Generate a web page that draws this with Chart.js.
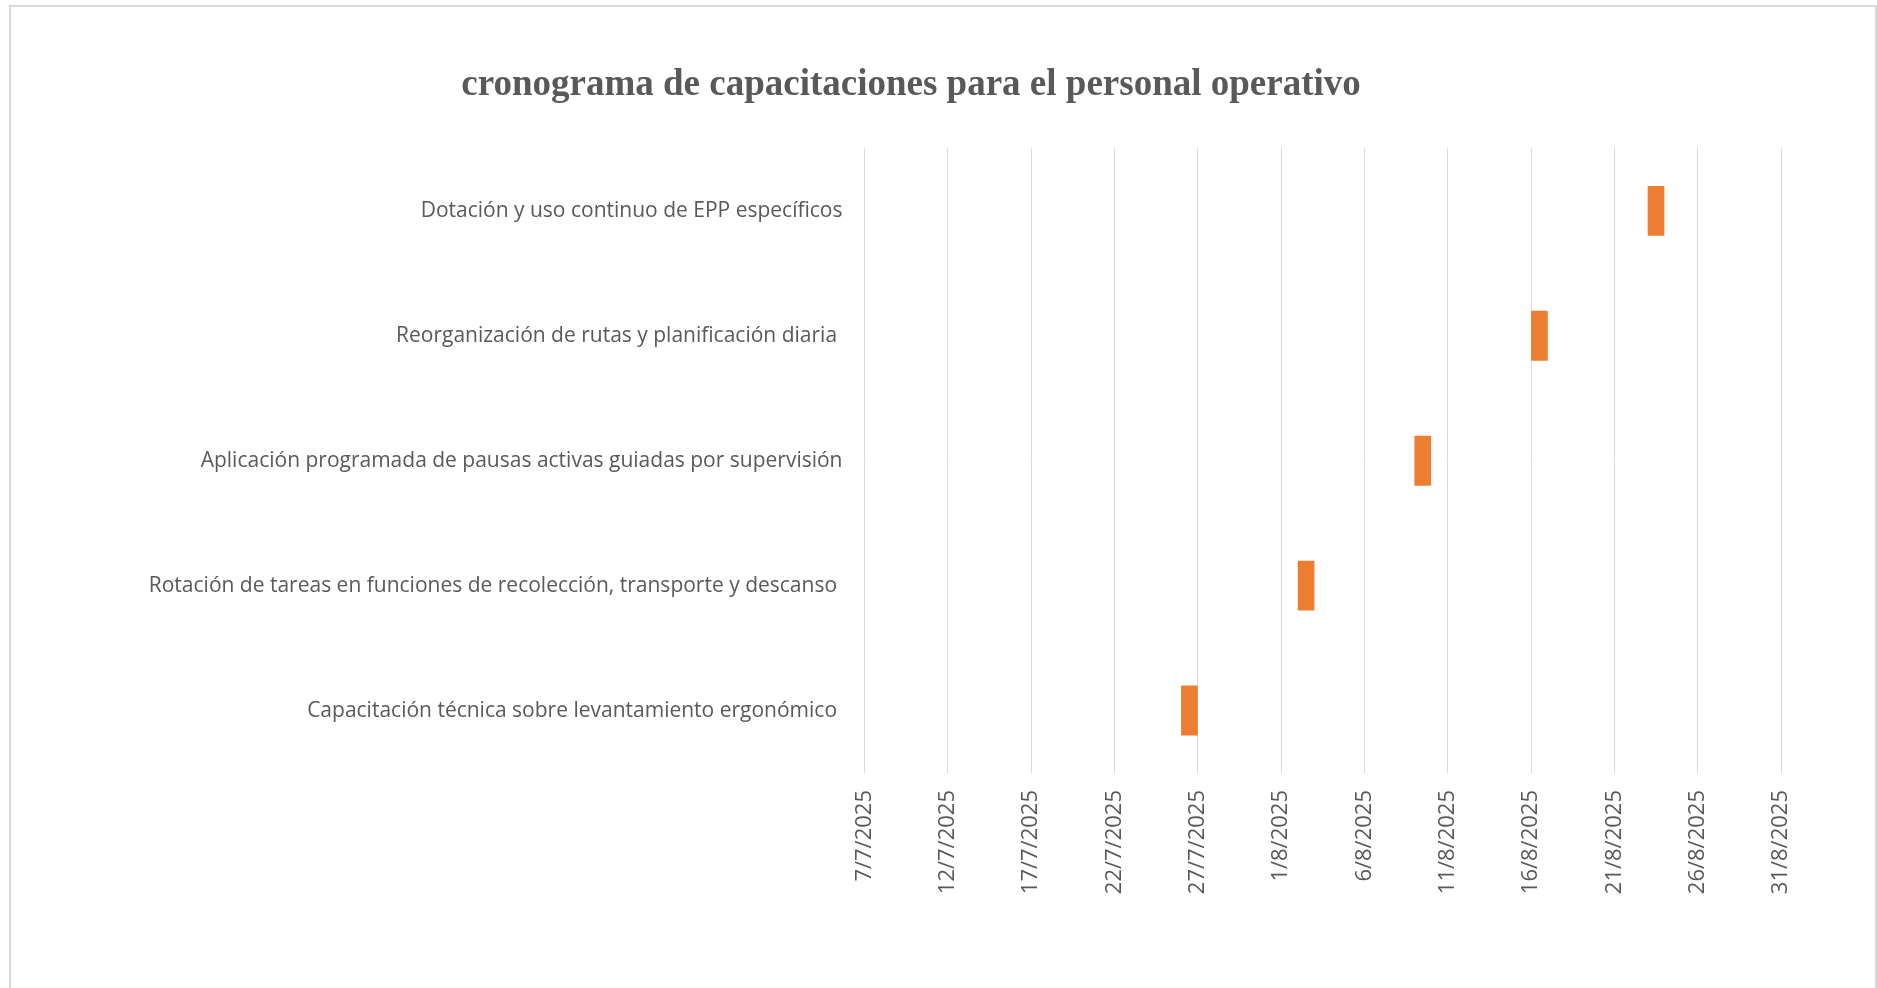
<!DOCTYPE html>
<html lang="es">
<head>
<meta charset="utf-8">
<title>cronograma de capacitaciones</title>
<script src="https://cdn.jsdelivr.net/npm/chart.js@4.4.1/dist/chart.umd.min.js"></script>
<style>
  html, body { margin: 0; padding: 0; background: #fff; overflow: hidden; }
  #frame {
    position: absolute; left: 9px; top: 5px; width: 1868px; height: 990px;
    border: 2px solid #d9d9d9; box-sizing: border-box;
  }
  #wrap { position: absolute; left: 0; top: 0; width: 1877px; height: 988px; }
</style>
</head>
<body>
<div id="frame"></div>
<div id="wrap"><canvas id="gantt"></canvas></div>
<script>
// tasks listed bottom to top, as on the chart
const tasks = [
    'Capacitación técnica sobre levantamiento ergonómico ',
    'Rotación de tareas en funciones de recolección, transporte y descanso ',
    'Aplicación programada de pausas activas guiadas por supervisión',
    'Reorganización de rutas y planificación diaria ',
    'Dotación y uso continuo de EPP específicos'
];
const startDates = ['2025-07-26', '2025-08-02', '2025-08-09', '2025-08-16', '2025-08-23'];
const durationDays = [1, 1, 1, 1, 1];

const axisStart = '2025-07-07';
const axisEnd = '2025-08-31';
const tickStepDays = 5;

const chartTitle = 'cronograma de capacitaciones para el personal operativo';

// dates as whole days since epoch so a plain linear scale can be used
function toDay(iso) {
    const [y, m, d] = iso.split('-').map(Number);
    return Date.UTC(y, m - 1, d) / 86400000;
}

function fmtDay(day) {
    const dt = new Date(day * 86400000);
    return `${dt.getUTCDate()}/${dt.getUTCMonth() + 1}/${dt.getUTCFullYear()}`;
}

const bars = startDates.map((s, i) => [toDay(s), toDay(s) + durationDays[i]]);

const textColor = '#595959';
const sansFamily = "'Open Sans', 'Noto Sans', sans-serif";

new Chart(document.getElementById('gantt'), {
    type: 'bar',
    data: {
        labels: tasks,
        datasets: [{
            data: bars,
            backgroundColor: '#ed7d31',
            borderWidth: 0,
            barPercentage: 0.4,
            categoryPercentage: 1
        }]
    },
    options: {
        indexAxis: 'y',
        responsive: true,
        maintainAspectRatio: false,
        animation: false,
        layout: { padding: { left: 41, right: 96, top: 0, bottom: 0 } },
        plugins: {
            legend: { display: false },
            tooltip: { enabled: false },
            title: {
                display: true,
                text: chartTitle,
                color: textColor,
                font: { family: "'Liberation Serif', 'Times New Roman', serif", size: 37, weight: 'bold', lineHeight: 1.2 },
                padding: { top: 63, bottom: 41 }
            }
        },
        scales: {
            x: {
                type: 'linear',
                position: 'bottom',
                min: toDay(axisStart),
                max: toDay(axisEnd),
                grid: { color: '#d9d9d9', lineWidth: 1, drawTicks: false },
                border: { display: false },
                ticks: {
                    stepSize: tickStepDays,
                    autoSkip: false,
                    minRotation: 90,
                    maxRotation: 90,
                    padding: 17,
                    color: textColor,
                    font: { family: sansFamily, size: 22 },
                    callback: v => fmtDay(v)
                },
                afterFit: s => { s.height = 215; }
            },
            y: {
                reverse: true,
                grid: { display: false, drawTicks: false },
                border: { display: false },
                ticks: { color: textColor, font: { family: sansFamily, size: 21 }, padding: 22 },
                afterFit: s => { s.width = 823.5; }
            }
        }
    }
});
</script>
</body>
</html>
